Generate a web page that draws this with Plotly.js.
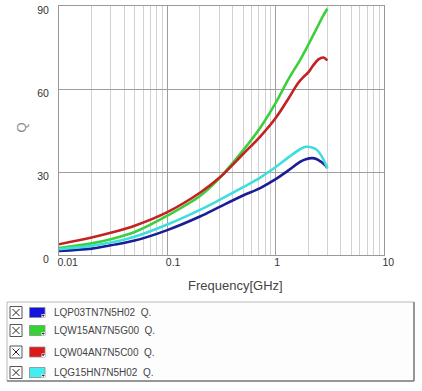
<!DOCTYPE html>
<html><head><meta charset="utf-8">
<script src="https://cdn.plot.ly/plotly-3.0.1.min.js"></script>
<style>html,body{margin:0;padding:0;background:#fff}#chart{width:422px;height:391px}</style>
</head><body><div id="chart"></div>
<script>
// ---- data ----
const seriesNames = ['LQP03TN7N5H02  Q.', 'LQW15AN7N5G00  Q.', 'LQW04AN7N5C00  Q.', 'LQG15HN7N5H02  Q.'];
const lineColors = ['#1c1c96', '#3ccf3c', '#c42222', '#3fdede'];
const swatchColors = ['#1414dc', '#34d334', '#dc1818', '#44eeee'];

const freqBlue = [0.01, 0.02, 0.03, 0.05, 0.1, 0.2, 0.3, 0.5, 0.72, 1, 1.31, 1.71, 1.9, 2.18, 2.4, 2.62, 2.8, 3.0];
const qBlue    = [1.5, 2.3, 3.5, 5.2, 9.0, 13.9, 17.3, 21.5, 24.2, 27.4, 30.6, 33.8, 34.6, 35.0, 34.6, 33.7, 32.8, 31.5];

const freqGreen = [0.01, 0.02, 0.03, 0.05, 0.1, 0.2, 0.3, 0.5, 0.72, 1, 1.31, 1.71, 2.0, 2.4, 2.7, 3.0];
const qGreen    = [2.5, 4.2, 5.7, 8.3, 14.2, 21.3, 27.6, 37.8, 46.0, 55.0, 63.5, 71.0, 76.0, 82.0, 86.0, 89.0];

const freqRed = [0.01, 0.02, 0.03, 0.05, 0.1, 0.2, 0.3, 0.5, 0.72, 1, 1.31, 1.6, 1.8, 2.0, 2.2, 2.48, 2.76, 3.0];
const qRed    = [3.9, 6.3, 8.0, 10.6, 15.5, 22.5, 27.8, 36.5, 42.8, 49.5, 56.5, 62.0, 64.3, 66.0, 68.3, 70.7, 71.4, 70.3];

const freqCyan = [0.01, 0.02, 0.03, 0.05, 0.1, 0.2, 0.3, 0.5, 0.72, 1, 1.31, 1.71, 1.9, 2.2, 2.4, 2.62, 2.8, 3.0];
const qCyan    = [2.1, 3.3, 4.5, 6.6, 11.0, 16.3, 19.8, 24.5, 28.0, 31.8, 35.3, 38.4, 39.1, 38.8, 38.0, 36.1, 34.0, 31.3];

const xTickVals = [0.01, 0.1, 1, 10];
const xTickText = ['0.01', '0.1', '1', '10'];
const xMinorVals = [0.02,0.03,0.04,0.05,0.06,0.07,0.08,0.09,0.2,0.3,0.4,0.5,0.6,0.7,0.8,0.9,2,3,4,5,6,7,8,9];
const yTickVals = [0, 30, 60, 90];
const yTickText = ['0', '30', '60', '90'];
const xTitle = 'Frequency[GHz]';
const yTitle = 'Q';

// ---- layout helpers (pixel -> paper) ----
const W = 422, H = 391;
const L = 59, R = 384, T = 6, B = 255;
const px = x => (x - L) / (R - L);
const py = y => (B - y) / (B - T);

const xs = [freqBlue, freqGreen, freqRed, freqCyan];
const ys = [qBlue, qGreen, qRed, qCyan];

const traces = xs.map((x, i) => ({
  x: x, y: ys[i], type: 'scatter', mode: 'lines', name: seriesNames[i],
  line: {color: lineColors[i], width: 2.6, shape: 'spline', smoothing: 1},
  showlegend: false, hoverinfo: 'skip'
}));

const shapes = [];
const annotations = [];
// legend frame
shapes.push({type:'rect', xref:'paper', yref:'paper', x0:px(7), x1:px(414), y0:py(381), y1:py(302),
  line:{color:'#b8b8b8', width:1}, fillcolor:'#fdfdfe', layer:'above'});
shapes.push({type:'line', xref:'paper', yref:'paper', x0:px(414), x1:px(414), y0:py(381), y1:py(302),
  line:{color:'#808080', width:1.5}});
shapes.push({type:'line', xref:'paper', yref:'paper', x0:px(7), x1:px(414), y0:py(381), y1:py(381),
  line:{color:'#808080', width:1.5}});

const rowY = [312.5, 330.5, 352, 372.5];
rowY.forEach((c, i) => {
  // checkbox
  shapes.push({type:'rect', xref:'paper', yref:'paper', x0:px(10), x1:px(22), y0:py(c+6), y1:py(c-6),
    line:{color:'#555', width:1}, fillcolor:'#ffffff'});
  shapes.push({type:'line', xref:'paper', yref:'paper', x0:px(12.5), x1:px(19.5), y0:py(c+3.5), y1:py(c-3.5),
    line:{color:'#222', width:1}});
  shapes.push({type:'line', xref:'paper', yref:'paper', x0:px(12.5), x1:px(19.5), y0:py(c-3.5), y1:py(c+3.5),
    line:{color:'#222', width:1}});
  // swatch
  shapes.push({type:'rect', xref:'paper', yref:'paper', x0:px(29.5), x1:px(45), y0:py(c+5), y1:py(c-5),
    line:{color:'#8a8a8a', width:0.8}, fillcolor:swatchColors[i]});
  shapes.push({type:'rect', xref:'paper', yref:'paper', x0:px(41.5), x1:px(45), y0:py(c+5), y1:py(c+1.5),
    line:{width:0}, fillcolor:'#ffffff'});
  shapes.push({type:'path', xref:'paper', yref:'paper',
    path:`M ${px(42)} ${py(c+2.5)} L ${px(44.5)} ${py(c+2.5)} L ${px(43.25)} ${py(c+4)} Z`,
    line:{color:'#222', width:0.5}, fillcolor:'#222'});
  annotations.push({xref:'paper', yref:'paper', x:px(52), y:py(c), xanchor:'left', yanchor:'middle',
    text:seriesNames[i], showarrow:false, font:{family:'Liberation Sans, Arial, sans-serif', size:10, color:'#444'}});
});

// axis titles (placed by pixel)
annotations.push({xref:'paper', yref:'paper', x:px(235.5), y:py(285), xanchor:'center', yanchor:'middle',
  text:xTitle, showarrow:false, font:{family:'Liberation Sans, Arial, sans-serif', size:13, color:'#444'}});
annotations.push({xref:'paper', yref:'paper', x:px(20.5), y:py(128), xanchor:'center', yanchor:'middle',
  text:yTitle, textangle:-90, showarrow:false, font:{family:'Liberation Sans, Arial, sans-serif', size:13, color:'#888'}});

const tickFont = {family:'Liberation Sans, Arial, sans-serif', size:10.5, color:'#333'};

const layout = {
  width: W, height: H,
  margin: {l: L, r: W - R, t: T, b: H - B, pad: 0},
  paper_bgcolor: '#ffffff', plot_bgcolor: '#ffffff',
  showlegend: false,
  xaxis: {
    type: 'log', range: [-2, 1], tickmode: 'array', tickvals: xTickVals, ticktext: xTickText,
    ticks: '', showgrid: true, gridcolor: '#9e9e9e', gridwidth: 1,
    minor: {tickmode: 'array', tickvals: xMinorVals, showgrid: true, gridcolor: '#d2d2d2', gridwidth: 1, ticks: ''},
    showline: true, mirror: true, linecolor: '#999', linewidth: 1, zeroline: false,
    tickfont: tickFont, ticklabelposition: 'outside right', ticklabelshift: -2, ticklabelstandoff: -3,
    fixedrange: true
  },
  yaxis: {
    range: [0, 90], tickmode: 'array', tickvals: yTickVals, ticktext: yTickText,
    ticks: '', showgrid: true, gridcolor: '#9e9e9e', gridwidth: 1,
    showline: true, mirror: true, linecolor: '#999', linewidth: 1, zeroline: false,
    tickfont: tickFont, ticklabelshift: 4, ticklabelstandoff: 7,
    fixedrange: true
  },
  shapes: shapes,
  annotations: annotations
};

Plotly.newPlot('chart', traces, layout, {displayModeBar: false, staticPlot: true});
</script>
</body></html>
